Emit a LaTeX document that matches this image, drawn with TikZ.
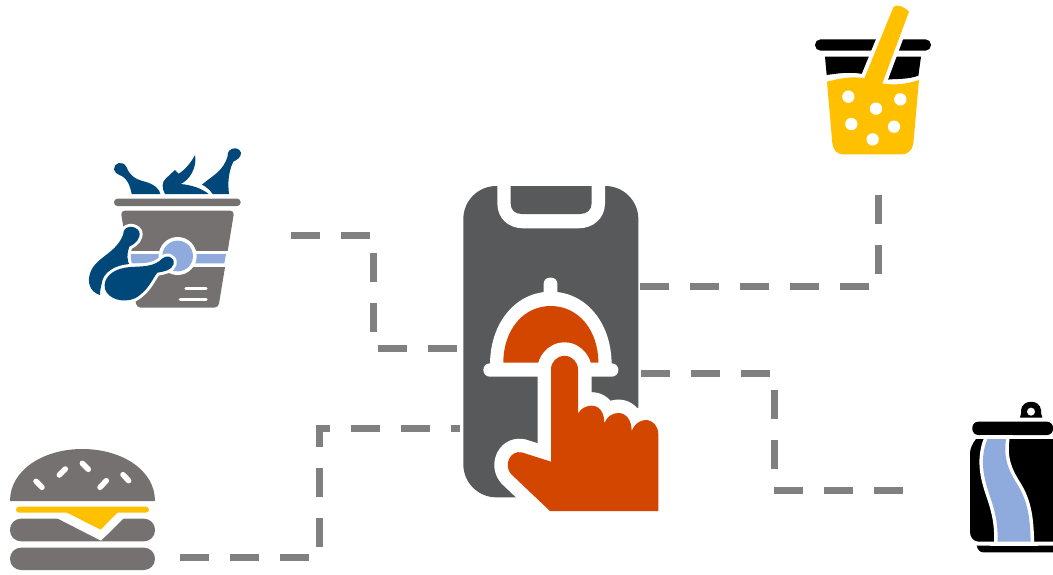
\documentclass[tikz,border=0pt]{standalone}
\definecolor{phonegray}{HTML}{58595B}
\definecolor{warmgray}{HTML}{767171}
\definecolor{navy}{HTML}{00487A}
\definecolor{softblue}{HTML}{8FAADC}
\definecolor{amber}{HTML}{FFC000}
\definecolor{rust}{HTML}{D24600}
\definecolor{linkgray}{HTML}{808080}
\tikzset{
  link/.style={draw=linkgray,line width=7pt,dash pattern=on 29pt off 21pt,line join=miter,line cap=butt},
  halo/.style={draw=white,line join=round},
  zoomed/.style={shift={(#1)},scale=1/3},
}
\newcommand{\handpath}{(303,860) -- (303,583) arc[start angle=180,end angle=360,radius=40.5] -- (384,716) .. controls (392,700) and (410,692) .. (425,692) .. controls (447,692) and (463,710) .. (463,745) .. controls (470,725) and (488,714) .. (505,714) .. controls (528,714) and (545,735) .. (545,768) .. controls (552,748) and (570,735) .. (587,735) .. controls (610,735) and (625,755) .. (625,778) -- (625,1008) -- (300,1008) -- (183,897) .. controls (160,870) and (180,825) .. (215,832) -- cycle}
\newcommand{\backleg}{(130,282) .. controls (128,258) and (165,252) .. (178,275) .. controls (183,297) and (165,312) .. (148,320) .. controls (140,340) and (140,362) .. (150,378) .. controls (105,385) and (60,405) .. (60,465) .. controls (28,455) and (20,425) .. (32,395) .. controls (50,350) and (110,340) .. (130,282) -- cycle}
\newcommand{\frontleg}{(240,362) .. controls (258,340) and (285,350) .. (281,372) .. controls (275,392) and (250,395) .. (232,398) .. controls (215,420) and (205,452) .. (165,475) .. controls (130,490) and (85,478) .. (75,447) .. controls (68,415) and (95,390) .. (135,383) .. controls (170,377) and (210,385) .. (240,362) -- cycle}
\newcommand{\strawliquid}{(66,245) .. controls (105,235) and (140,228) .. (178,235) -- (265,22) .. controls (272,10) and (300,20) .. (312,35) -- (232,250) .. controls (270,257) and (305,252) .. (342,240) -- (325,430) .. controls (322,450) and (310,463) .. (290,463) -- (115,463) .. controls (95,463) and (85,450) .. (82,430) -- cycle}
\newcommand{\stripe}{(82,132) .. controls (55,200) and (75,260) .. (92,310) .. controls (112,370) and (113,400) .. (113,440) -- (212,440) .. controls (210,370) and (205,320) .. (170,265) .. controls (145,225) and (130,190) .. (138,132) -- cycle}
\begin{document}
\begin{tikzpicture}[x=1pt,y=-1pt]
\useasboundingbox (0,0) rectangle (1053,574);

% ---------- phone
\begin{scope}[zoomed={450,175}]
  \fill[phonegray,rounded corners=33pt] (40,33) rectangle (565,967);
  \fill[white] (142,33) -- (142,85) .. controls (142,130) and (175,160) .. (220,160) -- (385,160) .. controls (430,160) and (465,130) .. (465,85) -- (465,33) -- cycle;
  \fill[phonegray] (182,33) -- (182,85) .. controls (182,105) and (195,117) .. (215,117) -- (390,117) .. controls (410,117) and (425,105) .. (425,85) -- (425,33) -- cycle;
  % cloche
  \fill[white,rounded corners=6pt] (281,380) rectangle (322,308);
  \fill[white] (120,570) .. controls (120,440) and (200,350) .. (302,350) .. controls (405,350) and (485,440) .. (485,570) -- cycle;
  \fill[white,rounded corners=6.5pt] (100,565) rectangle (505,605);
  \fill[rust] (160,563) .. controls (160,465) and (220,393) .. (302,393) .. controls (385,393) and (445,465) .. (445,563) -- cycle;
  % hand
  \path[halo,line width=27pt,fill=white] \handpath;
  \fill[rust] \handpath;
\end{scope}

% ---------- bucket of chicken
\begin{scope}[zoomed={80,140}]
  % top drumsticks
  \fill[navy] (102,88) .. controls (100,70) and (128,58) .. (140,82) .. controls (148,105) and (165,118) .. (195,125) .. controls (225,133) and (240,150) .. (241,162) -- (155,162) .. controls (150,135) and (140,112) .. (118,105) .. controls (110,102) and (104,97) .. (102,88) -- cycle;
  \fill[navy] (345,45) .. controls (352,80) and (330,120) .. (302,132) .. controls (335,135) and (365,145) .. (386,162) -- (255,162) .. controls (245,145) and (245,125) .. (258,115) -- (285,90) -- (296,101) .. controls (315,90) and (335,65) .. (345,45) -- cycle;
  \fill[navy] (366,134) .. controls (395,108) and (430,95) .. (443,48) .. controls (440,25) and (475,15) .. (483,38) .. controls (484,52) and (470,60) .. (460,65) .. controls (445,95) and (443,130) .. (447,162) -- (398,162) .. controls (390,150) and (378,140) .. (366,134) -- cycle;
  % rim and body
  \fill[warmgray,rounded corners=3.5pt] (102,176) rectangle (482,198);
  \fill[warmgray,rounded corners=4pt] (122,212) -- (463,212) -- (415,503) -- (170,503) -- cycle;
  % band
  \fill[white] (140,332) rectangle (448,380);
  \fill[softblue] (152,342) -- (438,342) -- (433,370) -- (152,370) -- cycle;
  \fill[white] (293,348) circle[radius=57];
  \fill[softblue] (293,348) circle[radius=46];
  % back drumstick
  \path[halo,line width=6pt] \backleg;
  \fill[navy] \backleg;
  % front drumstick
  \path[halo,line width=6pt] \frontleg;
  \fill[navy] \frontleg;
  \draw[white,line width=3.5pt,line cap=round] (318,445) -- (378,445) (301,478) -- (378,478);
\end{scope}

% ---------- burger
\begin{scope}[zoomed={0,440}]
  \fill[warmgray] (30,183) .. controls (30,90) and (130,27) .. (247,27) .. controls (365,27) and (465,90) .. (465,183) -- cycle;
  \draw[white,line width=5.5pt,line cap=round] (108,124) -- (126,142) (178,105) -- (196,87) (247,70) -- (265,88) (300,142) -- (319,122) (369,104) -- (386,122);
  \fill[warmgray,rounded corners=11pt] (30,236) rectangle (465,304);
  \fill[white] (170,234) -- (303,302) -- (372,234) -- cycle;
  \fill[amber,rounded corners=3pt] (48,200) rectangle (447,218);
  \fill[amber] (195,215) -- (355,215) -- (302,269) -- cycle;
  \fill[warmgray,rounded corners=11pt] (30,323) rectangle (465,390);
\end{scope}

% ---------- drink cup
\begin{scope}[zoomed={805,0}]
  \fill[black,rounded corners=5.5pt] (30,118) rectangle (378,152);
  \fill[black] (60,170) -- (348,170) -- (340,228) .. controls (300,240) and (270,235) .. (240,240) -- (170,222) .. controls (130,215) and (100,220) .. (65,225) -- cycle;
  \path[halo,line width=8pt] \strawliquid;
  \fill[amber] \strawliquid;
  \foreach \hx/\hy in {130/290,213/326,286/298,139/372,267/380,203/418}
    \fill[white] (\hx,\hy) circle[radius=18.5];
\end{scope}

% ---------- can
\begin{scope}[zoomed={960,395}]
  \fill[black] (180,68) .. controls (185,60) and (182,50) .. (183,45) .. controls (187,12) and (240,12) .. (243,45) .. controls (244,50) and (242,60) .. (247,68) -- cycle;
  \fill[white] (213,50) circle[radius=12];
  \fill[black,rounded corners=6pt] (37,80) rectangle (279,120);
  \fill[black] (48,132) -- (279,132) -- (279,440) -- (55,440) .. controls (38,438) and (30,425) .. (30,410) -- (30,175) .. controls (30,160) and (38,145) .. (48,132) -- cycle;
  \fill[black] (50,452) -- (279,452) -- (279,472) -- (70,472) .. controls (60,472) and (53,465) .. (50,452) -- cycle;
  \path[halo,line width=7pt] \stripe;
  \fill[white] (60,120) rectangle (160,132);
  \fill[white] (90,440) rectangle (235,452);
  \fill[softblue] \stripe;
\end{scope}

% ---------- connector ends
\coordinate (chickenOut) at (291,235.7);
\coordinate (chickenKnee) at (373.7,235.7);
\coordinate (chickenTurn) at (373.7,348.7);
\coordinate (chickenIn) at (458,348.7);
\coordinate (burgerOut) at (180,557);
\coordinate (burgerKnee) at (319.5,557);
\coordinate (burgerTurn) at (319.5,428);
\coordinate (burgerIn) at (459.5,428);
\coordinate (cupIn) at (640,286);
\coordinate (cupKnee) at (878,286);
\coordinate (cupOut) at (878,194);
\coordinate (canIn) at (640.5,373.7);
\coordinate (canKnee) at (774,373.7);
\coordinate (canTurn) at (774,490);
\coordinate (canOut) at (904,490);

\draw[link] (chickenOut) -- (chickenKnee) -- (chickenTurn) -- (chickenIn);
\draw[link] (burgerOut) -- (burgerKnee) -- (burgerTurn) -- (burgerIn);
\draw[link] (cupIn) -- (cupKnee) -- (cupOut);
\draw[link] (canIn) -- (canKnee) -- (canTurn) -- (canOut);
\end{tikzpicture}
\end{document}
